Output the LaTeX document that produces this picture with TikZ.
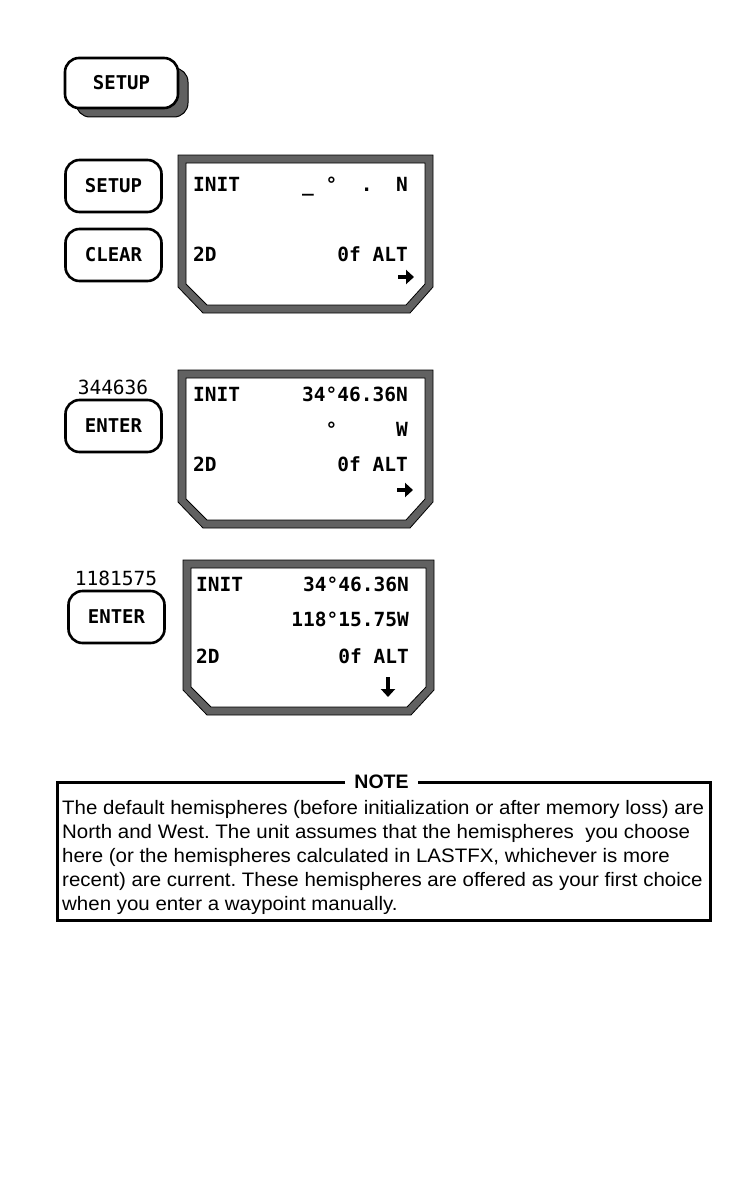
\documentclass[tikz,border=0pt]{standalone}
\usepackage{fontspec}
\setmainfont{Liberation Sans}
\newfontfamily\notefont[FakeStretch=1.05]{Liberation Sans}
\newfontfamily\lcdfont{DejaVu Sans Mono}
\usetikzlibrary{positioning, calc, arrows.meta}

\newcommand{\blank}{\hphantom{0}}
\frenchspacing

\tikzset{
  key/.style={draw, line width=2.6pt, rounded corners=14pt, fill=white,
    minimum width=96pt, minimum height=52pt, font=\lcdfont\bfseries\fontsize{19}{19}\selectfont},
  keyshadow/.style={draw, line width=1pt, rounded corners=14pt, fill=black!62},
  bezel/.style={draw, line width=0.8pt, fill=black!62, even odd rule},
  lcd/.style={inner sep=0pt, font=\lcdfont\bfseries\fontsize{19.5}{19.5}\selectfont},
  entry/.style={inner sep=0pt, font=\lcdfont\fontsize{19.5}{19.5}\selectfont},
  pointer/.style={line width=3.4pt, -{Triangle[length=8pt,width=14pt]}},
  notetext/.style={inner sep=0pt, anchor=base west, font=\notefont\fontsize{19.5}{24}\selectfont}
}

\begin{document}
\begin{tikzpicture}[x=1pt, y=-1pt]
  \useasboundingbox (0,0) rectangle (740,1196);

  % SETUP key held down
  \draw[keyshadow] (76,68) rectangle (188,117);
  \node[key, minimum width=113pt, minimum height=50pt] (setup0) at (121.5,83) {SETUP};

  % first screen
  \node[key] (setup1) at (113.5,186) {SETUP};
  \node[key] (clear1) at (113.5,255) {CLEAR};
  \draw[bezel] (178,155) -- (433,155) -- (433,287) -- (410,313) -- (203,313) -- (178,287) -- cycle
               (186,163) -- (425,163) -- (425,284) -- (406,305) -- (207,305) -- (186,284) -- cycle;
  \node[lcd, anchor=base west] (init1) at (193,191) {INIT};
  \node[lcd, anchor=base east] (lat1) at (408,191) {\_\blank°\blank\blank.\blank\blank N};
  \node[lcd, anchor=base west] (fix1) at (193,261) {2D};
  \node[lcd, anchor=base east] (alt1) at (408,261) {0f ALT};
  \coordinate (arr1) at (406,277);
  \draw[pointer] ($(arr1)+(-8,0)$) -- ($(arr1)+(8,0)$);

  % second screen
  \node[entry] (num2) at (113,387) {344636};
  \node[key] (enter2) at (113.5,426) {ENTER};
  \draw[bezel] (178,370) -- (433,370) -- (433,502) -- (410,528) -- (203,528) -- (178,502) -- cycle
               (186,378) -- (425,378) -- (425,499) -- (406,520) -- (207,520) -- (186,499) -- cycle;
  \node[lcd, anchor=base west] (init2) at (193,401) {INIT};
  \node[lcd, anchor=base east] (lat2) at (408,401) {34°46.36N};
  \node[lcd, anchor=base east] (lon2) at (408,436) {°\blank\blank\blank\blank\blank W};
  \node[lcd, anchor=base west] (fix2) at (193,471) {2D};
  \node[lcd, anchor=base east] (alt2) at (408,471) {0f ALT};
  \coordinate (arr2) at (405,490);
  \draw[pointer] ($(arr2)+(-8,0)$) -- ($(arr2)+(8,0)$);

  % third screen
  \node[entry] (num3) at (116,578) {1181575};
  \node[key] (enter3) at (116.5,617) {ENTER};
  \draw[bezel] (183,560) -- (434,560) -- (434,690) -- (411,715) -- (207,715) -- (183,690) -- cycle
               (191,568) -- (426,568) -- (426,687) -- (407,707) -- (211,707) -- (191,687) -- cycle;
  \node[lcd, anchor=base west] (init3) at (196,591) {INIT};
  \node[lcd, anchor=base east] (lat3) at (409,591) {34°46.36N};
  \node[lcd, anchor=base east] (lon3) at (409,626) {118°15.75W};
  \node[lcd, anchor=base west] (fix3) at (196,663) {2D};
  \node[lcd, anchor=base east] (alt3) at (409,663) {0f ALT};
  \coordinate (arr3) at (388,687);
  \draw[pointer] ($(arr3)+(0,-10)$) -- ($(arr3)+(0,10)$);

  % note
  \node[inner sep=0pt, font=\bfseries\fontsize{19.5}{19.5}\selectfont] (note) at (381.5,782) {NOTE};
  \draw[line width=3pt] ([xshift=-9pt]note.west) -- (57,782) -- (57,920) -- (710,920) -- (710,782) -- ([xshift=9pt]note.east);
  \node[notetext] (line1) at (62,814) {The default hemispheres (before initialization or after memory loss) are};
  \node[notetext] (line2) at (62,838) {North and West. The unit assumes that the hemispheres\ \ you choose};
  \node[notetext] (line3) at (62,862) {here (or the hemispheres calculated in LASTFX, whichever is more};
  \node[notetext] (line4) at (62,886) {recent) are current. These hemispheres are offered as your first choice};
  \node[notetext] (line5) at (62,910) {when you enter a waypoint manually.};
\end{tikzpicture}
\end{document}
